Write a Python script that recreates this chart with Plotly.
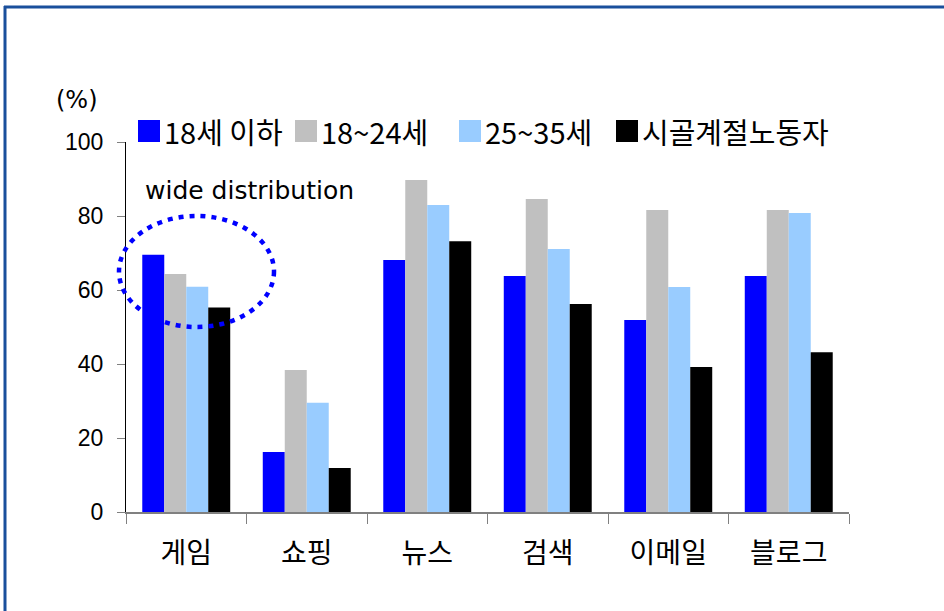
import plotly.graph_objects as go

categories = ["게임", "쇼핑", "뉴스", "검색", "이메일", "블로그"]
series_names = ["18세 이하", "18~24세", "25~35세", "시골계절노동자"]
under18 = [69.5, 16.2, 68.1, 63.8, 51.9, 63.8]
age18_24 = [64.3, 38.4, 89.7, 84.6, 81.6, 81.6]
age25_35 = [60.9, 29.5, 83.0, 71.1, 60.8, 80.8]
seasonal = [55.3, 11.9, 73.2, 56.2, 39.2, 43.2]
y_ticks = [0, 20, 40, 60, 80, 100]

colors = ["#0000FF", "#C0C0C0", "#99CCFF", "#000000"]
series = [under18, age18_24, age25_35, seasonal]

W, H = 944, 611
L, R, T, B = 126, 95, 142, 99
PW, PH = W - L - R, H - T - B

def px(x):
    return (x - L) / PW

def py(y):
    return (H - B - y) / PH

KFONT = "Noto Sans CJK KR, sans-serif"
NFONT = "Liberation Sans Narrow, Liberation Sans, sans-serif"
LFONT = "DejaVu Sans, sans-serif"

fig = go.Figure()
for name, vals, c in zip(series_names, series, colors):
    fig.add_trace(go.Bar(x=categories, y=vals, name=name, marker_color=c,
                         marker_line_width=0, showlegend=False))

fig.update_layout(
    width=W, height=H,
    margin=dict(l=L, r=R, t=T, b=B, pad=0),
    paper_bgcolor="white", plot_bgcolor="white",
    barmode="group", bargap=0.27, bargroupgap=0,
    font=dict(family=KFONT, color="black"),
    hovermode=False,
    xaxis=dict(range=[-0.5, len(categories) - 0.5], autorange=False,
               showline=True, linecolor="#808080", linewidth=1.5,
               ticks="outside", tickson="boundaries", ticklen=10,
               tickcolor="#808080", tickfont=dict(size=28, family=KFONT),
               ticklabelstandoff=16,
               showgrid=False, zeroline=False),
    yaxis=dict(range=[0, 100], autorange=False, tickvals=y_ticks, showline=True,
               linecolor="black", linewidth=1, ticks="outside", ticklen=8,
               tickcolor="#808080", tickfont=dict(size=23, family=NFONT),
               ticklabelstandoff=9, showgrid=False, zeroline=False),
)

shapes = []
annotations = []

# frame
shapes.append(dict(type="line", xref="paper", yref="paper", x0=px(4), x1=px(944),
                   y0=py(7), y1=py(7), line=dict(color="#1a4f9c", width=3)))
shapes.append(dict(type="line", xref="paper", yref="paper", x0=px(5), x1=px(5),
                   y0=py(6), y1=py(611), line=dict(color="#1a4f9c", width=3)))

# legend (manual, large squares)
sq = [138, 295, 459, 616]
for x0, name, c in zip(sq, series_names, colors):
    shapes.append(dict(type="rect", xref="paper", yref="paper", x0=px(x0), x1=px(x0 + 22),
                       y0=py(142), y1=py(120), fillcolor=c, line=dict(width=0)))
    annotations.append(dict(text=name, xref="paper", yref="paper", x=px(x0 + 24), y=py(131),
                            xanchor="left", yanchor="middle", showarrow=False,
                            font=dict(size=29, family=KFONT)))

# ellipse highlight (paper refs so it is not clipped at the axis)
shapes.append(dict(type="circle", xref="paper", yref="paper",
                   x0=px(119), x1=px(274), y0=py(327), y1=py(216),
                   line=dict(color="#0000FF", width=4.5, dash="5px,6px")))

annotations.append(dict(text="(%)", xref="paper", yref="paper", x=px(54), y=py(100),
                        xanchor="left", yanchor="middle", showarrow=False,
                        font=dict(size=24, family=LFONT)))
annotations.append(dict(text="wide distribution", xref="paper", yref="paper", x=px(143), y=py(190),
                        xanchor="left", yanchor="middle", showarrow=False,
                        font=dict(size=25, family=LFONT)))

fig.update_layout(shapes=shapes, annotations=annotations)
fig.write_html("out.html", config={"displayModeBar": False, "staticPlot": True},
               post_script="document.body.style.margin='0';")
